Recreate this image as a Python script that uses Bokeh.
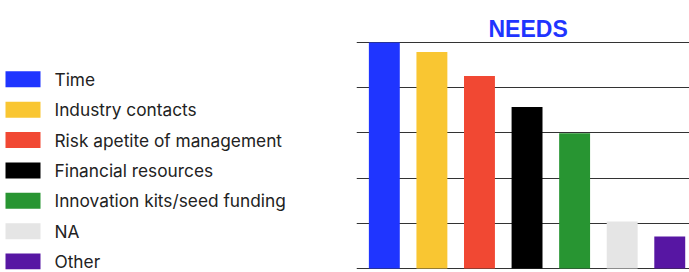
from bokeh.plotting import figure
from bokeh.layouts import row
from bokeh.models import Range1d, FactorRange, FixedTicker, Grid, ColumnDataSource, Title
from bokeh.transform import dodge
from bokeh.core.properties import value
from bokeh.embed import file_html
from bokeh.resources import INLINE

# ---- data ----
categories = ["Time", "Industry contacts", "Risk apetite of management",
              "Financial resources", "Innovation kits/seed funding", "NA", "Other"]
values = [5.0, 4.79, 4.26, 3.57, 2.99, 1.04, 0.71]
colors = ["#1F35FF", "#F9C632", "#F14833", "#000000", "#289532", "#E5E5E5", "#5716A3"]
grid_ticks = [0, 1, 2, 3, 4, 5]
title_text = "NEEDS"

W = 689
H = 272
LW = 348
TOP = 41
BOTTOM = 3

# ---- legend panel ----
leg = figure(width=LW, height=H, x_range=Range1d(0, LW), y_range=Range1d(H - BOTTOM, TOP),
             x_axis_location=None, y_axis_location=None, toolbar_location=None,
             output_backend="svg", min_border_left=0, min_border_right=0,
             min_border_top=TOP, min_border_bottom=BOTTOM, outline_line_color=None)
leg.xgrid.visible = False
leg.ygrid.visible = False
row_y = [78.8 + i * 30.37 for i in range(len(categories))]
src_leg = ColumnDataSource(dict(label=categories, color=colors, y=row_y))
leg.rect(x=22.5, y="y", width=35, height=16, fill_color="color", line_color=None, source=src_leg)
leg.text(x=54, y="y", text="label", text_font=value("Inter"), text_font_size="17.3px",
         text_color="#222222", text_baseline="middle", source=src_leg)

# ---- bar chart ----
p = figure(width=W - LW, height=H, x_range=FactorRange(factors=categories),
           y_range=Range1d(-0.02, 5.02), x_axis_location=None, y_axis_location=None,
           toolbar_location=None, output_backend="svg",
           min_border_left=8, min_border_right=0, min_border_top=TOP, min_border_bottom=BOTTOM,
           outline_line_color=None)
p.xgrid.visible = False
p.ygrid.visible = False

# invisible spacer title (closest to the frame)
p.title.text = "."
p.title.text_font_size = "1px"
p.title.text_alpha = 0
p.title.standoff = 9

# real title, stacked above the spacer
p.add_layout(Title(text=title_text, align="left", offset=132, vertical_align="bottom",
                   standoff=0, text_font="Liberation Sans", text_font_size="23px",
                   text_font_style="bold", text_color="#1F35FF"), "above")

p.add_layout(Grid(dimension=1, ticker=FixedTicker(ticks=grid_ticks),
                  grid_line_color="#333333", grid_line_width=1))

src = ColumnDataSource(dict(cat=categories, val=values, color=colors))
p.vbar(x=dodge("cat", 0.085, range=p.x_range), top="val", width=0.65,
       fill_color="color", line_color=None, source=src)

layout = row(leg, p)
open("out.html", "w").write(file_html(layout, INLINE))
